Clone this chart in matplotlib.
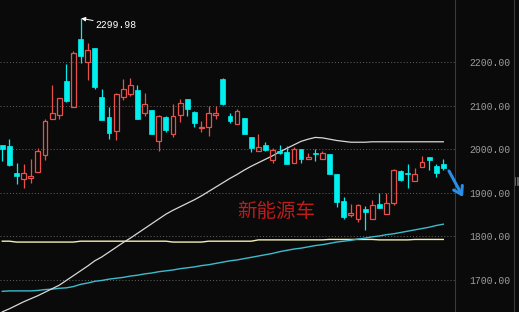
import matplotlib
matplotlib.use('Agg')
import matplotlib.pyplot as plt
from matplotlib.patches import Rectangle
from matplotlib.lines import Line2D
import numpy as np

# ---- data ----
opens  = [2009, 2007, 1946, 1932, 1935, 1948, 1987, 2070, 2079, 2156,
          2096, 2253, 2199, 2232, 2119, 2074, 2042, 2119, 2126, 2135,
          2082, 2091, 2018, 2074, 2036, 2078, 2115, 2085, 2048, 2052,
          2078, 2161, 2077, 2058, 2072, 2028, 1997, 2010, 1976, 1997,
          1994, 1969, 2001, 1977, 1990, 1978, 1989, 1943, 1881, 1848,
          1839, 1863, 1840, 1874, 1851, 1877, 1950, 1946, 1927, 1960,
          1981, 1961, 1965]
highs  = [2010, 2023, 1969, 1966, 1977, 2003, 2070, 2147, 2117, 2195,
          2225, 2300, 2244, 2232, 2138, 2097, 2128, 2160, 2163, 2147,
          2129, 2091, 2078, 2076, 2103, 2115, 2115, 2088, 2065, 2100,
          2100, 2163, 2084, 2092, 2072, 2028, 2036, 2016, 2003, 2009,
          2007, 2004, 2001, 1992, 2001, 1997, 1989, 1943, 1890, 1874,
          1874, 1870, 1884, 1899, 1899, 1955, 1952, 1966, 1957, 1984,
          1981, 1966, 1977]
lows   = [1974, 1962, 1920, 1912, 1923, 1948, 1976, 2070, 2070, 2109,
          2096, 2197, 2159, 2139, 2068, 2024, 2020, 2113, 2122, 2069,
          2075, 2035, 1997, 2040, 2029, 2063, 2075, 2052, 2040, 2030,
          2070, 2101, 2060, 2058, 2035, 1994, 1997, 1996, 1968, 1990,
          1967, 1969, 1968, 1977, 1974, 1978, 1943, 1867, 1839, 1844,
          1834, 1815, 1840, 1864, 1851, 1871, 1926, 1912, 1927, 1960,
          1952, 1937, 1952]
closes = [2001, 1964, 1939, 1945, 1938, 1996, 2065, 2082, 2117, 2111,
          2220, 2214, 2227, 2142, 2068, 2038, 2126, 2137, 2147, 2070,
          2103, 2035, 2076, 2044, 2076, 2107, 2093, 2061, 2052, 2082,
          2083, 2104, 2065, 2088, 2035, 2002, 2004, 1998, 1998, 1991,
          1967, 2001, 1977, 1983, 1988, 1992, 1943, 1880, 1845, 1853,
          1871, 1855, 1873, 1864, 1876, 1952, 1929, 1943, 1942, 1970,
          1976, 1946, 1956]

ma_white = [1627, 1634, 1642, 1650, 1657, 1664, 1672, 1680, 1688, 1699,
            1710, 1721, 1732, 1744, 1753, 1764, 1775, 1786, 1796, 1807,
            1818, 1829, 1840, 1851, 1860, 1868, 1876, 1884, 1893, 1903,
            1913, 1923, 1933, 1942, 1952, 1961, 1969, 1977, 1985, 1994,
            2002, 2010, 2018, 2023, 2027, 2026, 2023, 2020, 2018, 2016,
            2016, 2016, 2017, 2017, 2017, 2017, 2017, 2017, 2017, 2017,
            2017, 2017, 2017]
ma_cyan = [1674, 1675, 1675, 1675, 1675, 1676, 1678, 1679, 1681, 1682,
           1685, 1690, 1693, 1697, 1699, 1702, 1704, 1706, 1709, 1711,
           1714, 1716, 1719, 1721, 1723, 1726, 1728, 1730, 1733, 1735,
           1738, 1741, 1744, 1746, 1749, 1752, 1755, 1758, 1761, 1765,
           1768, 1771, 1773, 1776, 1779, 1781, 1784, 1787, 1789, 1791,
           1794, 1796, 1799, 1801, 1804, 1806, 1809, 1812, 1815, 1818,
           1821, 1825, 1828]
ma_yellow = [1789, 1789, 1787, 1787, 1787, 1787, 1787, 1787, 1787, 1787,
             1787, 1789, 1789, 1789, 1789, 1789, 1789, 1789, 1789, 1789,
             1789, 1789, 1789, 1789, 1787, 1787, 1787, 1787, 1787, 1789,
             1789, 1789, 1789, 1789, 1789, 1789, 1792, 1792, 1792, 1792,
             1792, 1792, 1792, 1792, 1792, 1792, 1793, 1793, 1793, 1793,
             1793, 1793, 1793, 1792, 1792, 1792, 1792, 1792, 1793, 1793,
             1793, 1793, 1793]

ytick_vals = [1700, 1800, 1900, 2000, 2100, 2200]
ytick_labels = ['1700.00', '1800.00', '1900.00', '2000.00', '2100.00', '2200.00']
peak_label = '2299.98'
sector_label = '新能源车'

# ---- style ----
BG = '#0a0a0a'
RED = '#e8504c'
CYAN = '#00f0f0'
W = 519
H = 312

fig = plt.figure(figsize=(W / 100, H / 100), dpi=100, facecolor=BG)
ax = fig.add_axes([0, 0, 455 / W, 1])
ax.set_facecolor(BG)
n = len(opens)
xs = np.arange(n)
ax.set_xlim(-0.323, 63.64)
ax.set_ylim(1626.6, 2342.2)

# grid
ax.set_yticks(ytick_vals)
ax.set_yticklabels(ytick_labels)
ax.yaxis.grid(True, color='#5c5c5c', linestyle=(0, (1, 2)), linewidth=0.75)
ax.set_axisbelow(True)
ax.set_xticks([])
for s in ['top', 'left', 'bottom']:
    ax.spines[s].set_visible(False)
ax.spines['right'].set_color('#3a3a3a')
ax.spines['right'].set_linewidth(0.8)
ax.yaxis.tick_right()
ax.tick_params(axis='y', length=0, pad=10, labelcolor='#9c9c9c', labelsize=7)
for lab in ax.get_yticklabels():
    lab.set_family('Liberation Mono')

# moving averages
ax.plot(xs, ma_yellow, color='#f2f0b4', lw=1.0, zorder=2)
ax.plot(xs, ma_cyan, color='#3cbccc', lw=1.0, zorder=2)
ax.plot(xs, ma_white, color='#d8d8d8', lw=0.9, zorder=2)

# candles
w = 0.68
for i in range(n):
    o, h, l, c = opens[i], highs[i], lows[i], closes[i]
    top, bot = max(o, c), min(o, c)
    if c >= o:
        ax.vlines(i, top, h, color=RED, lw=0.9, zorder=3)
        ax.vlines(i, l, bot, color=RED, lw=0.9, zorder=3)
        ax.add_patch(Rectangle((i - w / 2, bot), w, max(top - bot, 1.5),
                               fill=False, edgecolor=RED, lw=0.9, zorder=4))
    else:
        ax.vlines(i, l, h, color=CYAN, lw=0.9, zorder=3)
        ax.add_patch(Rectangle((i - w / 2, bot), w, max(top - bot, 2.5),
                               facecolor=CYAN, edgecolor=CYAN, lw=0.5, zorder=4))

# peak annotation
pk = int(np.argmax(highs))
ax.annotate(peak_label, xy=(pk + 0.1, highs[pk]), xytext=(10.5, -4.5),
            textcoords='offset points', color='white', fontsize=7,
            family='Liberation Mono', va='center', ha='left',
            arrowprops=dict(arrowstyle='-|>,head_length=0.35,head_width=0.18',
                            color='white', lw=0.7, shrinkA=0, shrinkB=0),
            zorder=6)

# sector label
ax.text(38.5, 1857, sector_label, color='#c01a1a', fontsize=14,
        family=['Noto Sans CJK SC', 'DejaVu Sans'], ha='center', va='center',
        zorder=6)

# blue arrow (figure pixels)
ax.annotate('', xy=(463, H - 197), xytext=(449, H - 171),
            xycoords='figure pixels', textcoords='figure pixels',
            arrowprops=dict(arrowstyle='->,head_length=0.55,head_width=0.35',
                            color='#2a8de6', lw=2.2, shrinkA=0, shrinkB=0),
            annotation_clip=False, zorder=7)

# right border line and small handle
fig.add_artist(Line2D([513.5 / W, 513.5 / W], [0, 1], color='#3a3a3a', lw=0.8,
                      transform=fig.transFigure))
for dx in [515, 516.5, 518]:
    fig.add_artist(Line2D([dx / W, dx / W], [1 - 185 / H, 1 - 177 / H],
                          color='#8a8a8a', lw=0.5, transform=fig.transFigure))

fig.savefig('out.png', dpi=100, facecolor=BG)
